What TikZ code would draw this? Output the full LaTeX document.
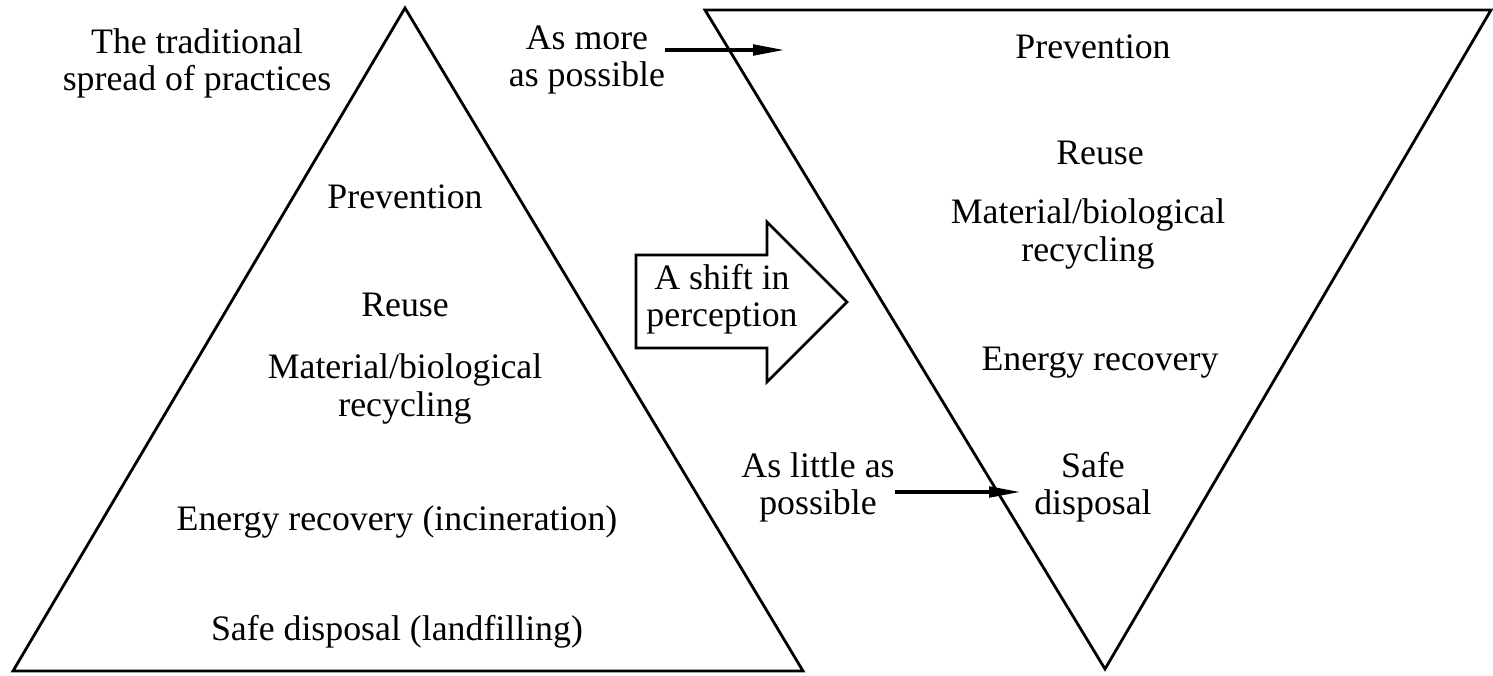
\documentclass[tikz,border=0pt]{standalone}
\usepackage{fontspec}
\setmainfont{Liberation Serif}
\usetikzlibrary{arrows.meta}
\begin{document}
\begin{tikzpicture}[x=0.5pt,y=-0.5pt]
% Styles
\tikzset{
  txt/.style={align=center, inner sep=0pt, font=\fontsize{17.9}{18.6}\selectfont},
  outline/.style={draw, line width=1.4pt, line join=miter},
  pointer/.style={line width=2.4pt, -{Triangle[length=17pt,width=5pt]}}
}
\useasboundingbox (0,0) rectangle (1493,675);

% Traditional pyramid
\coordinate (left_base_w) at (13,671);
\coordinate (left_base_e) at (803,671);
\coordinate (left_apex) at (405,8);
\draw[outline] (left_base_w) -- (left_apex) -- (left_base_e) -- cycle;

% Inverted pyramid
\coordinate (right_top_w) at (705,10);
\coordinate (right_top_e) at (1491,10);
\coordinate (right_tip) at (1105,669);
\draw[outline] (right_top_w) -- (right_top_e) -- (right_tip) -- cycle;

% Block arrow
\coordinate (shift_a) at (636,255);
\coordinate (shift_b) at (767,255);
\coordinate (shift_c) at (767,222);
\coordinate (shift_tip) at (847,302);
\coordinate (shift_d) at (767,382);
\coordinate (shift_e) at (767,348);
\coordinate (shift_f) at (636,348);
\draw[outline] (shift_a) -- (shift_b) -- (shift_c) -- (shift_tip) -- (shift_d) -- (shift_e) -- (shift_f) -- cycle;
\node[txt] (shift) at (722,299) {A shift in\\perception};

% Left labels
\node[txt] (traditional) at (197,63) {The traditional\\spread of practices};
\node[txt] (prev_left) at (405,197) {Prevention};
\node[txt] (reuse_left) at (405,305) {Reuse};
\node[txt] (recycle_left) at (405,389) {Material/biological\\recycling};
\node[txt] (energy_left) at (397,522) {Energy recovery (incineration)};
\node[txt] (disposal_left) at (397,632) {Safe disposal (landfilling)};

% Right labels
\node[txt] (prev_right) at (1093,47) {Prevention};
\node[txt] (reuse_right) at (1100,153) {Reuse};
\node[txt] (recycle_right) at (1088,234) {Material/biological\\recycling};
\node[txt] (energy_right) at (1100,363) {Energy recovery};
\node[txt] (disposal_right) at (1093,487) {Safe\\disposal};

% Pointers
\node[txt] (as_more) at (587,60) {As more\\as possible};
\node[txt] (as_little) at (818,487) {As little as\\possible};
\coordinate (more_tip) at (787,50);
\coordinate (little_tip) at (1023,492);
\draw[pointer] (as_more.east |- more_tip) -- (more_tip);
\draw[pointer] (as_little.east |- little_tip) -- (little_tip);

\end{tikzpicture}
\end{document}
